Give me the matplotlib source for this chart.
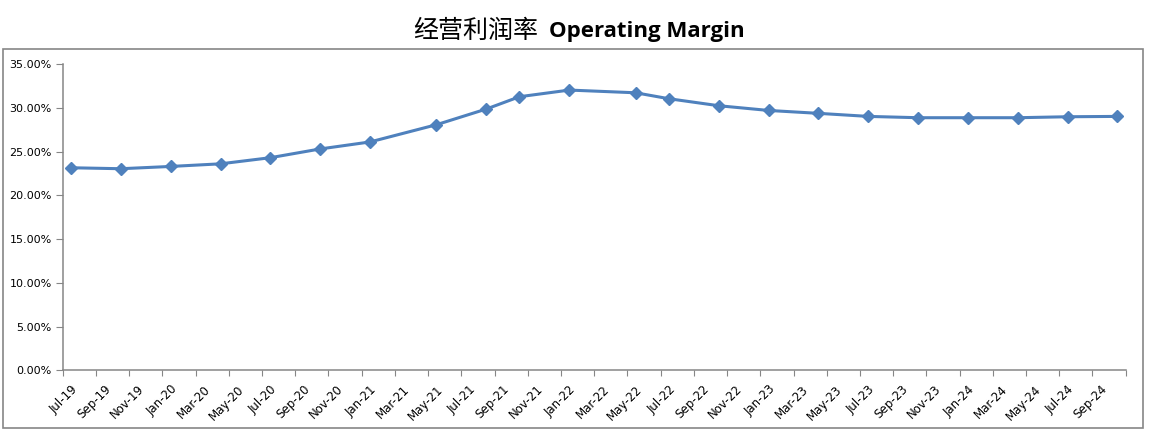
import matplotlib
matplotlib.use('Agg')
import matplotlib.pyplot as plt
from matplotlib.patches import Rectangle
from matplotlib.ticker import FixedLocator, FuncFormatter
import pandas as pd

# Daten (Quartalswerte)
dates = ['2019-07', '2019-10', '2020-01', '2020-04', '2020-07', '2020-10',
         '2021-01', '2021-05', '2021-08', '2021-10', '2022-01', '2022-05',
         '2022-07', '2022-10', '2023-01', '2023-04', '2023-07', '2023-10',
         '2024-01', '2024-04', '2024-07', '2024-10']
margin = [23.15, 23.04, 23.3, 23.6, 24.3, 25.3, 26.1, 28.07, 29.86, 31.27, 32.03,
          31.72, 31.04, 30.24, 29.7, 29.37, 29.02, 28.87, 28.87, 28.87, 28.98, 29.02]
tick_labels = ['Jul-19', 'Sep-19', 'Nov-19', 'Jan-20', 'Mar-20', 'May-20', 'Jul-20',
               'Sep-20', 'Nov-20', 'Jan-21', 'Mar-21', 'May-21', 'Jul-21', 'Sep-21',
               'Nov-21', 'Jan-22', 'Mar-22', 'May-22', 'Jul-22', 'Sep-22', 'Nov-22',
               'Jan-23', 'Mar-23', 'May-23', 'Jul-23', 'Sep-23', 'Nov-23', 'Jan-24',
               'Mar-24', 'May-24', 'Jul-24', 'Sep-24']

# Monatsindex ab Jul-19, Punkt in der Mitte des Monats
start = pd.Timestamp('2019-07-01')
def month_idx(s):
    d = pd.Timestamp(s)
    return (d.year - start.year) * 12 + d.month - start.month

x = [month_idx(d) + 0.5 for d in dates]
label_pos = [month_idx(pd.to_datetime(t, format='%b-%y')) + 0.5 for t in tick_labels]
n_months = month_idx('2024-11-01')

fig = plt.figure(figsize=(11.51, 4.33), dpi=100)
ax = fig.add_axes([0.0545, 0.1448, 0.9235, 0.7072])

ax.plot(x, margin, color='#4F81BD', linewidth=2.2, marker='D', markersize=6,
        markerfacecolor='#4F81BD', markeredgecolor='#4F81BD')

ax.set_xlim(0, n_months)
ax.set_ylim(0, 35)
ax.set_yticks([0, 5, 10, 15, 20, 25, 30, 35])
ax.yaxis.set_major_formatter(FuncFormatter(lambda v, p: f'{v:.2f}%'))

ax.xaxis.set_major_locator(FixedLocator(list(range(0, n_months + 1, 2))))
ax.xaxis.set_major_formatter(FuncFormatter(lambda v, p: ''))
ax.xaxis.set_minor_locator(FixedLocator(label_pos))
ax.set_xticklabels(tick_labels, minor=True, rotation=45, ha='right',
                   rotation_mode='anchor', fontsize=8.5)
ax.tick_params(axis='x', which='minor', length=0, pad=9)
ax.tick_params(axis='x', which='major', length=4, color='#868686', direction='out')
ax.tick_params(axis='y', length=5, color='#868686', labelsize=8, pad=3)

for s in ['top', 'right']:
    ax.spines[s].set_visible(False)
for s in ['left', 'bottom']:
    ax.spines[s].set_color('#868686')
    ax.spines[s].set_linewidth(1.1)

# Rahmen um das Diagramm
fig.patches.append(Rectangle((2.7 / 1151, 1 - 428.3 / 433), 1140 / 1151, 379 / 433,
                             transform=fig.transFigure, fill=False,
                             edgecolor='#868686', linewidth=1.2))

# Titel
fig.text(0.4674, 1 - 31 / 433, '经营利润率', family=['Noto Sans CJK SC', 'DejaVu Sans'],
         fontsize=18, ha='right', va='center')
fig.text(0.477, 1 - 31 / 433, 'Operating Margin', family='Open Sans',
         fontweight='bold', fontsize=16, ha='left', va='center')

fig.savefig('out.png', dpi=100)
